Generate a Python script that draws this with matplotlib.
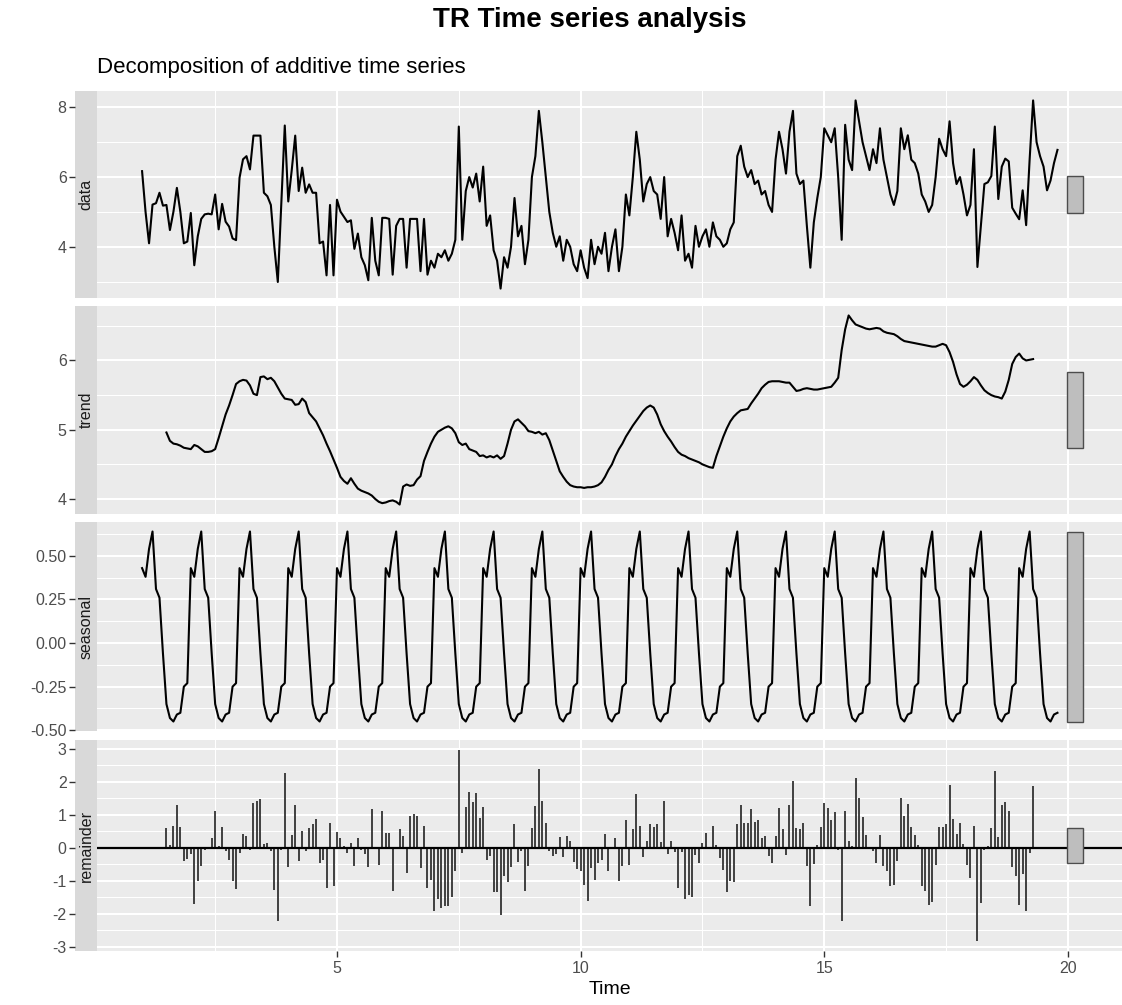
import numpy as np
import matplotlib
matplotlib.use("Agg")
import matplotlib.pyplot as plt
from matplotlib.patches import Rectangle

plt.rcParams['font.family'] = ['Liberation Sans', 'DejaVu Sans']

# series settings (ts with frequency 14, starting at time 1)
freq = 14
start = 1.0

data_vals = [
    6.17, 5.0, 4.10, 5.21, 5.25, 5.55, 5.18, 5.2, 4.48, 5.0, 5.69, 5.0, 4.1, 4.15,
    4.97, 3.47, 4.3, 4.8, 4.93, 4.95, 4.93, 5.5, 4.5, 5.23, 4.72, 4.58, 4.24, 4.19,
    5.98, 6.51, 6.6, 6.22, 7.19, 7.19, 7.19, 5.55, 5.45, 5.2, 4.0, 2.99, 5.2, 7.48,
    5.30, 6.2, 7.19, 5.6, 6.27, 5.55, 5.79, 5.55, 5.55, 4.10, 4.15, 3.18, 5.2, 3.18,
    5.35, 5.01, 4.86, 4.71, 4.76, 3.94, 4.38, 3.7, 3.47, 3.04, 4.83, 3.6, 3.18, 4.83,
    4.83, 4.8, 3.2, 4.6, 4.8, 4.8, 3.4, 4.8, 4.8, 4.8, 3.3, 4.8, 3.2, 3.6,
    3.4, 3.8, 3.7, 3.9, 3.6, 3.8, 4.2, 7.45, 4.2, 5.6, 6.0, 5.7, 6.1, 5.3,
    6.3, 4.6, 4.9, 3.9, 3.6, 2.8, 3.7, 3.4, 4.0, 5.4, 4.3, 4.6, 3.5, 4.2,
    6.0, 6.6, 7.9, 7.0, 6.0, 5.0, 4.4, 4.0, 4.3, 3.6, 4.2, 4.0, 3.5, 3.3,
    3.9, 3.4, 3.1, 4.2, 3.5, 4.0, 3.8, 4.4, 3.3, 4.0, 4.5, 3.3, 4.0, 5.5,
    4.9, 6.0, 7.3, 6.5, 5.3, 5.8, 6.0, 5.6, 5.5, 4.8, 6.0, 4.3, 4.8, 4.4,
    3.9, 4.9, 3.6, 3.8, 3.4, 4.6, 4.0, 4.3, 4.5, 4.0, 4.7, 4.3, 4.2, 4.0,
    4.1, 4.5, 4.7, 6.6, 6.9, 6.3, 6.0, 6.2, 5.8, 5.9, 5.5, 5.6, 5.2, 5.0,
    6.5, 7.3, 6.8, 6.1, 7.3, 7.9, 6.1, 5.8, 5.9, 4.6, 3.4, 4.7, 5.4, 6.0,
    7.4, 7.2, 7.0, 7.4, 6.0, 4.2, 7.5, 6.5, 6.2, 8.2, 7.6, 7.0, 6.6, 6.2,
    6.8, 6.4, 7.4, 6.5, 6.0, 5.5, 5.2, 5.6, 7.4, 6.8, 7.2, 6.5, 6.4, 6.1,
    5.5, 5.3, 5.0, 5.2, 6.0, 7.1, 6.8, 6.6, 7.6, 6.4, 5.8, 6.0, 5.5, 4.9,
    5.2, 6.8, 3.42, 4.6, 5.8, 5.85, 6.03, 7.45, 5.37, 6.3, 6.53, 6.45, 5.12, 4.95,
    4.79, 5.62, 4.62, 6.5, 8.2, 7.0, 6.6, 6.3, 5.62, 5.9, 6.4, 6.78,
]

# trend (moving average, first/last 7 points missing)
trend_vals = [
    4.96, 4.84, 4.80, 4.79, 4.77, 4.74, 4.73, 4.72, 4.78, 4.76, 4.72, 4.68, 4.68, 4.69,
    4.72, 4.88, 5.05, 5.22, 5.35, 5.50, 5.66, 5.70, 5.72, 5.71, 5.64, 5.52, 5.50, 5.76,
    5.77, 5.73, 5.75, 5.70, 5.61, 5.52, 5.45, 5.44, 5.43, 5.36, 5.37, 5.45, 5.40, 5.24,
    5.18, 5.12, 5.02, 4.92, 4.80, 4.69, 4.57, 4.45, 4.32, 4.26, 4.22, 4.30, 4.22, 4.15,
    4.12, 4.10, 4.08, 4.05, 4.00, 3.96, 3.94, 3.95, 3.97, 3.98, 3.96, 3.92, 4.18, 4.21,
    4.19, 4.20, 4.28, 4.33, 4.55, 4.68,
    4.80, 4.90, 4.97, 5.00, 5.03, 5.05, 5.02, 4.95, 4.82, 4.78, 4.80, 4.72, 4.70, 4.68,
    4.62, 4.63, 4.60, 4.62, 4.60, 4.63, 4.58, 4.62, 4.80, 5.00, 5.12, 5.15, 5.10, 5.05,
    4.98, 4.97, 4.95, 4.97, 4.93, 4.95, 4.85, 4.70, 4.55,
    4.40, 4.32, 4.25, 4.20, 4.18, 4.17, 4.17, 4.16, 4.17, 4.17, 4.18, 4.20, 4.24, 4.32,
    4.42, 4.50, 4.62, 4.72, 4.80, 4.90, 4.98, 5.06, 5.13, 5.20, 5.27, 5.32, 5.35, 5.32,
    5.22, 5.08, 4.98, 4.90, 4.83, 4.75, 4.68, 4.64, 4.62, 4.59, 4.57, 4.55, 4.53, 4.50,
    4.48, 4.46, 4.45, 4.62, 4.76, 4.90, 5.02, 5.12, 5.19, 5.24, 5.28, 5.29, 5.30, 5.38,
    5.45, 5.52, 5.60, 5.65, 5.69, 5.70, 5.70, 5.70, 5.69, 5.68, 5.68, 5.62, 5.56, 5.57,
    5.59, 5.60, 5.59, 5.58, 5.58, 5.59, 5.60, 5.61, 5.62, 5.68, 5.75, 6.15, 6.45, 6.65,
    6.58, 6.52, 6.50, 6.48, 6.46, 6.45, 6.46, 6.47, 6.46, 6.42, 6.40, 6.39, 6.38, 6.35,
    6.31, 6.28, 6.27, 6.26, 6.25, 6.24, 6.23, 6.22, 6.21, 6.20, 6.20, 6.22, 6.24, 6.22,
    6.12, 5.98, 5.80, 5.66, 5.62, 5.65, 5.70, 5.76, 5.72, 5.64, 5.57, 5.53, 5.50, 5.48,
    5.47, 5.45, 5.55, 5.72, 5.95, 6.05, 6.10, 6.03, 6.00, 6.01, 6.02,
]

# one cycle of the seasonal figure
seasonal_figure = [0.43, 0.38, 0.54, 0.64, 0.31, 0.26, -0.06,
                   -0.35, -0.43, -0.45, -0.41, -0.40, -0.25, -0.23]

panel_names = ['data', 'trend', 'seasonal', 'remainder']

data = np.array(data_vals)
n = len(data)
time = start + np.arange(n) / freq
half = freq // 2
trend = np.full(n, np.nan)
trend[half:half + len(trend_vals)] = trend_vals
seasonal = np.resize(np.array(seasonal_figure), n)
remainder = data - trend - seasonal

series = [data, trend, seasonal, remainder]

W, H = 1122, 1005
fig = plt.figure(figsize=(W / 100, H / 100), dpi=100)

panel_bg = '#EBEBEB'
strip_bg = '#D9D9D9'
x_left_px, strip_px = 97, 22
panel_px = [(91, 298), (306, 514), (522, 731), (740, 951)]
xlim = (0.075, 21.11)

ytick_sets = [
    ([4, 6, 8], [3, 5, 7], ['4', '6', '8']),
    ([4, 5, 6], [3.5, 4.5, 5.5, 6.5], ['4', '5', '6']),
    ([-0.5, -0.25, 0, 0.25, 0.5], [-0.375, -0.125, 0.125, 0.375, 0.625],
     ['-0.50', '-0.25', '0.00', '0.25', '0.50']),
    ([-3, -2, -1, 0, 1, 2, 3], [-2.5, -1.5, -0.5, 0.5, 1.5, 2.5],
     ['-3', '-2', '-1', '0', '1', '2', '3']),
]

# range bar length = smallest range among the panels
ranges = [np.nanmax(s) - np.nanmin(s) for s in series]
bar_len = min(ranges)
bar_x0, bar_x1 = 19.98, 20.30

for k, (name, vals) in enumerate(zip(panel_names, series)):
    top, bot = panel_px[k]
    y0 = 1 - bot / H
    h = (bot - top) / H
    ax = fig.add_axes([x_left_px / W, y0, 1 - x_left_px / W, h])
    sax = fig.add_axes([(x_left_px - strip_px) / W, y0, strip_px / W, h])

    lo, hi = np.nanmin(vals), np.nanmax(vals)
    pad = 0.05 * (hi - lo)
    ylim = (lo - pad, hi + pad)

    ax.set_facecolor(panel_bg)
    major, minor, labels = ytick_sets[k]
    ax.set_yticks(major)
    ax.set_yticks(minor, minor=True)
    ax.set_xticks([5, 10, 15, 20])
    ax.set_xticks([2.5, 7.5, 12.5, 17.5], minor=True)
    ax.grid(which='major', color='white', lw=1.5)
    ax.grid(which='minor', color='white', lw=0.75)
    ax.set_axisbelow(True)
    ax.tick_params(which='both', left=False, labelleft=False, length=0)
    for sp in ax.spines.values():
        sp.set_visible(False)

    if name == 'remainder':
        ax.vlines(time, 0, vals, color='#333333', lw=1.3)
        ax.axhline(0, color='black', lw=1.6)
    else:
        ax.plot(time, vals, color='black', lw=1.5)

    mid = (lo + hi) / 2
    ax.add_patch(Rectangle((bar_x0, mid - bar_len / 2), bar_x1 - bar_x0, bar_len,
                           facecolor='#BEBEBE', edgecolor='#4D4D4D', lw=1.0, zorder=3))

    ax.set_xlim(*xlim)
    ax.set_ylim(*ylim)

    if k < 3:
        ax.tick_params(axis='x', which='both', bottom=False, labelbottom=False)
    else:
        ax.tick_params(axis='x', which='major', bottom=True, length=4, width=1,
                       color='#333333', labelcolor='#4D4D4D', labelsize=11.5, pad=3)
        ax.set_xlabel('Time', fontsize=14, labelpad=4)

    # strip on the left holding the panel label and y axis
    sax.set_facecolor(strip_bg)
    sax.set_xlim(0, 1)
    sax.set_ylim(*ylim)
    sax.set_xticks([])
    sax.set_yticks(major)
    sax.set_yticklabels(labels)
    sax.tick_params(axis='y', length=4, width=1, color='#333333',
                    labelcolor='#4D4D4D', labelsize=11.5, pad=2)
    for sp in sax.spines.values():
        sp.set_visible(False)
    sax.text(0.5, 0.5, name, transform=sax.transAxes, rotation=90,
             ha='center', va='center', fontsize=11.5, color='#1A1A1A')

fig.text(590 / W, 1 - 20 / H, 'TR Time series analysis', ha='center', va='center',
         fontsize=20, fontweight='bold')
fig.text(97 / W, 1 - 67 / H, 'Decomposition of additive time series', ha='left',
         va='center', fontsize=16)

fig.savefig('out.png', dpi=100)
